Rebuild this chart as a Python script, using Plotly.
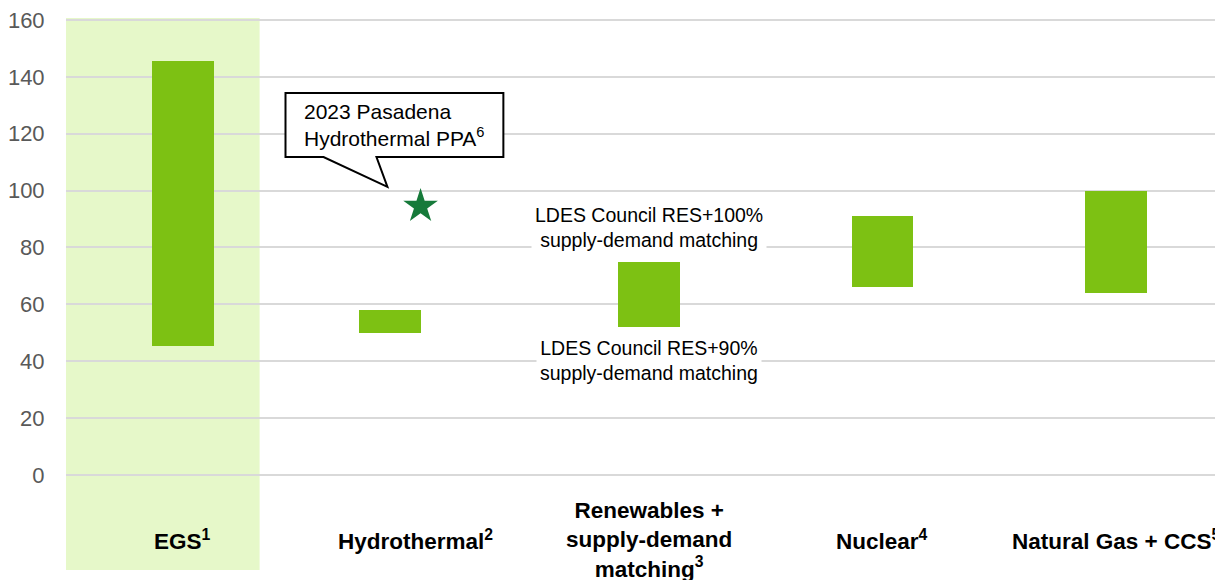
import plotly.graph_objects as go

# ── Dados ──────────────────────────────────────────────────────────────
categories = ["EGS<sup>1</sup>", "Hydrothermal<sup>2</sup>",
              "Renewables +<br>supply-demand<br>matching<sup>3</sup>",
              "Nuclear<sup>4</sup>", "Natural Gas + CCS<sup>5</sup>"]
cat_pos = [0, 1, 2, 3, 4]
bar_pos = [0, 0.89, 2, 3, 4]
low = [45.5, 50, 52, 66, 64]
high = [145.5, 58, 75, 91, 100]
ppa_x = [1.02]
ppa_y = [94.5]
y_ticks = [0, 20, 40, 60, 80, 100, 120, 140, 160]

BAR_GREEN = "#7dc113"
BAND_GREEN = "#e6f8c9"
STAR_GREEN = "#167a3a"
FONT = "Liberation Sans, Arial, sans-serif"

fig = go.Figure()

fig.add_trace(go.Bar(
    x=bar_pos, y=[h - l for h, l in zip(high, low)], base=low,
    width=0.265, marker=dict(color=BAR_GREEN, line_width=0),
    showlegend=False, hoverinfo="skip"))

fig.add_trace(go.Scatter(
    x=ppa_x, y=ppa_y, mode="markers", showlegend=False,
    marker=dict(symbol="star", size=26, color=STAR_GREEN, line_width=0)))

# faixa de destaque EGS
fig.add_shape(type="rect", xref="x", yref="y", x0=-0.5, x1=0.33,
              y0=-33.4, y1=160.7, fillcolor=BAND_GREEN, line_width=0,
              layer="below")

# balão do PPA
fig.add_shape(type="path", xref="x", yref="y", layer="above",
              path=("M 0.441,134.3 L 1.375,134.3 L 1.375,111.8 "
                    "L 0.831,111.8 L 0.878,101.3 L 0.604,111.8 "
                    "L 0.441,111.8 Z"),
              fillcolor="white", line=dict(color="black", width=2))
fig.add_annotation(x=0.51, y=123.2, xref="x", yref="y", xanchor="left",
                   align="left", showarrow=False,
                   text="2023 Pasadena<br>Hydrothermal PPA<sup>6</sup>",
                   font=dict(family=FONT, size=21, color="black"))

# rótulos LDES
for y, txt in [(86.9, "LDES Council RES+100%<br>supply-demand matching"),
               (40.1, "LDES Council RES+90%<br>supply-demand matching")]:
    fig.add_annotation(x=2.0, y=y, xref="x", yref="y", showarrow=False,
                       text=txt, bgcolor="white", borderpad=3,
                       font=dict(family=FONT, size=19.5, color="black"))

# rótulos das categorias
for x, txt in zip(cat_pos, categories):
    fig.add_annotation(x=x, y=-23, xref="x", yref="y", showarrow=False,
                       text=f"<b>{txt}</b>",
                       font=dict(family=FONT, size=22.5, color="black"))

# a página tem margem de 8 px no body: tamanho compensado
fig.update_layout(
    width=1215, height=572,
    margin=dict(l=58, r=0, t=0, b=0),
    plot_bgcolor="white", paper_bgcolor="white",
    bargap=0, showlegend=False,
    xaxis=dict(range=[-0.5, 4.46], showgrid=False, zeroline=False,
               showticklabels=False, ticks=""),
    yaxis=dict(range=[-36.9, 164.2], tickvals=y_ticks, showgrid=True,
               gridcolor="#d9d9d9", gridwidth=1.5, zeroline=False,
               ticks="outside", ticklen=16, tickcolor="rgba(0,0,0,0)",
               ticklabeloverflow="allow",
               tickfont=dict(family=FONT, size=22, color="#595959")),
)

fig.write_html("out.html")
